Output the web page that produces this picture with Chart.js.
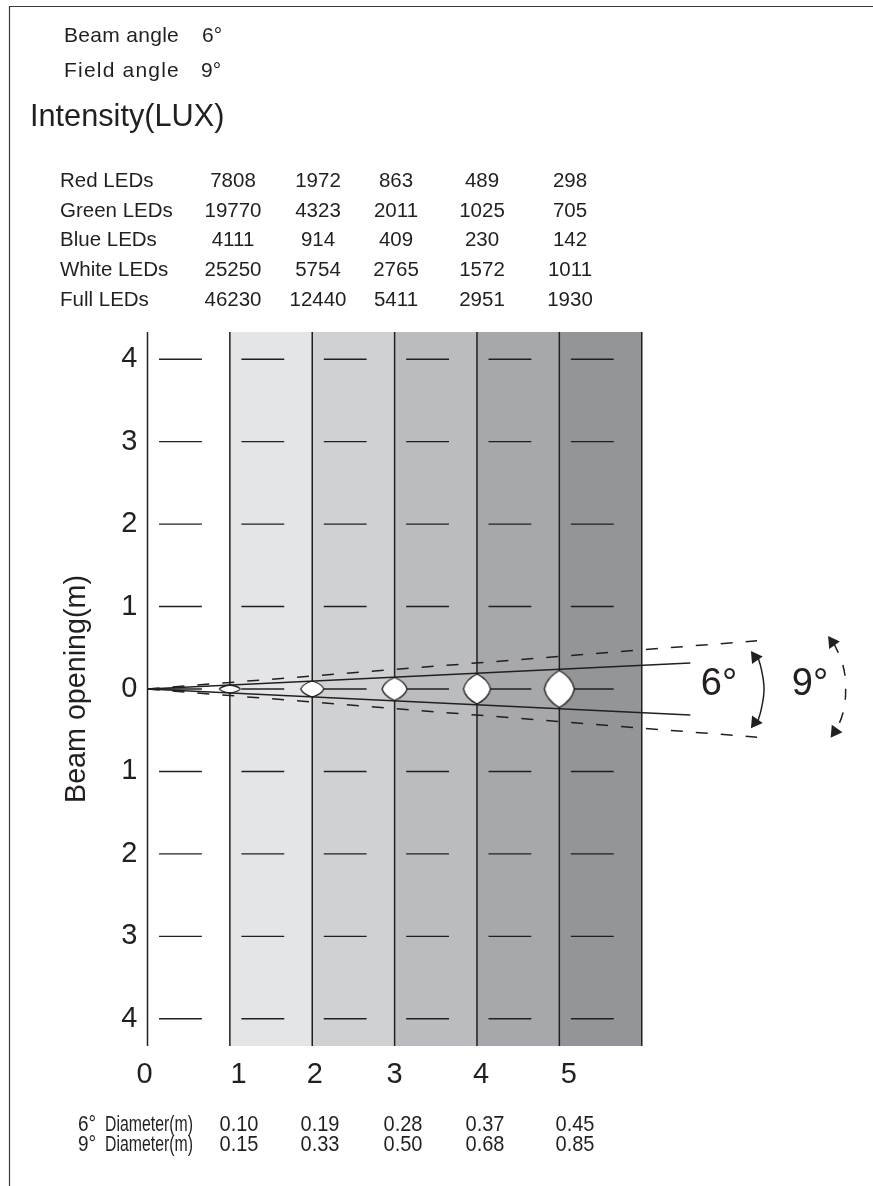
<!DOCTYPE html>
<html>
<head>
<meta charset="utf-8">
<title>Beam angle</title>
<script src="https://cdn.jsdelivr.net/npm/chart.js@4"></script>
<style>
html, body { margin: 0; padding: 0; background: #fff; }
canvas { display: block; }
</style>
</head>
<body>
<canvas id="chart1" width="873" height="1186"></canvas>
<script>
// table values
var ledNames = ["Red LEDs", "Green LEDs", "Blue LEDs", "White LEDs", "Full LEDs"];
var redLux = [7808, 1972, 863, 489, 298];
var greenLux = [19770, 4323, 2011, 1025, 705];
var blueLux = [4111, 914, 409, 230, 142];
var whiteLux = [25250, 5754, 2765, 1572, 1011];
var fullLux = [46230, 12440, 5411, 2951, 1930];
var diameter6 = ["0.10", "0.19", "0.28", "0.37", "0.45"];
var diameter9 = ["0.15", "0.33", "0.50", "0.68", "0.85"];

// axes
var distances = [1, 2, 3, 4, 5];
var xTickLabels = ["0", "1", "2", "3", "4", "5"];
var xTickPlaces = [-0.036, 1.106, 2.03, 3.0, 4.05, 5.115];
var yTickValues = [4, 3, 2, 1, 0, -1, -2, -3, -4];
var gridColumns = [0, 1, 2, 3, 4, 5, 6];
var bandCentres = [1.5, 2.5, 3.5, 4.5, 5.5];
var yLimit = 4.33;
var xLimit = 8.65;

// beam lines
var beam6End = [6.59, 0.315];
var beam9End = [7.4, 0.585];
var arc6X = [7.4, 7.45, 7.485, 7.45, 7.4];
var arc6Y = [0.42, 0.25, 0, -0.25, -0.42];
var arc9X = [8.33, 8.44, 8.476, 8.44, 8.33];
var arc9Y = [0.56, 0.3, 0, -0.3, -0.56];
var arrowX = [7.378, 7.378, 8.315, 8.346];
var arrowY = [0.387, -0.403, 0.569, -0.517];
var arrowTurn = [-35, 215, -35, 215];

// styles
var ink = "#231f20";
var bandColors = ["#e4e5e7", "#d0d1d3", "#bbbcbf", "#a7a8ab", "#939598"];
var lensWidths = [21, 23, 25, 27, 30];
var pxPerMetre = 82.4;
var tableRows = [181, 211, 240, 270, 300];
var tableColumns = [233, 318, 396, 482, 570];
var diameterColumns = [239, 320, 403, 485, 575];

function lensPicture(w, h) {
    var c = document.createElement("canvas");
    c.width = w + 4;
    c.height = h + 4;
    var g = c.getContext("2d");
    var mx = c.width / 2, my = c.height / 2, rx = w / 2, ry = h / 2, kx = 0.85, ky = 0.62;
    g.beginPath();
    g.moveTo(mx, my - ry);
    g.quadraticCurveTo(mx + rx * kx, my - ry * ky, mx + rx, my);
    g.quadraticCurveTo(mx + rx * kx, my + ry * ky, mx, my + ry);
    g.quadraticCurveTo(mx - rx * kx, my + ry * ky, mx - rx, my);
    g.quadraticCurveTo(mx - rx * kx, my - ry * ky, mx, my - ry);
    g.closePath();
    g.fillStyle = "#fff";
    g.fill();
    g.lineWidth = 1.3;
    g.strokeStyle = ink;
    g.stroke();
    return c;
}

var gridPoints = [];
gridColumns.forEach(function (x) {
    gridPoints.push({x: x, y: -yLimit}, {x: x, y: yLimit}, {x: x, y: null});
});

var dashPoints = [];
yTickValues.forEach(function (y) {
    [0, 1, 2, 3, 4, 5].forEach(function (x) {
        dashPoints.push({x: x + 0.14, y: y}, {x: x + 0.66, y: y}, {x: x, y: null});
    });
});

function pairUp(xs, ys) {
    return xs.map(function (x, i) {
        return {x: x, y: ys[i]};
    });
}

function beamPoints(end) {
    return [
        {x: 0, y: 0}, {x: end[0], y: end[1]}, {x: 0, y: null},
        {x: 0, y: 0}, {x: end[0], y: -end[1]}
    ];
}

var textPlugin = {
    id: "pageText",
    afterDraw: function (chart) {
        var ctx = chart.ctx;
        ctx.save();
        ctx.fillStyle = ink;
        ctx.strokeStyle = "#3a3a3a";
        ctx.lineWidth = 1.2;
        ctx.beginPath();
        ctx.moveTo(9.5, 1186);
        ctx.lineTo(9.5, 6.5);
        ctx.lineTo(873, 6.5);
        ctx.stroke();

        ctx.textBaseline = "middle";
        ctx.textAlign = "left";
        ctx.font = "21px 'Liberation Sans'";
        ctx.letterSpacing = "0.3px";
        ctx.fillText("Beam angle", 64, 36);
        ctx.letterSpacing = "1.2px";
        ctx.fillText("Field angle", 64, 71);
        ctx.letterSpacing = "0px";
        ctx.fillText("6°", 202, 36);
        ctx.fillText("9°", 201, 71);
        ctx.font = "30.7px 'Liberation Sans'";
        ctx.fillText("Intensity(LUX)", 30, 118);

        ctx.font = "20.5px 'Liberation Sans'";
        [redLux, greenLux, blueLux, whiteLux, fullLux].forEach(function (row, r) {
            ctx.textAlign = "left";
            ctx.fillText(ledNames[r], 60, tableRows[r]);
            ctx.textAlign = "center";
            row.forEach(function (v, i) {
                ctx.fillText(String(v), tableColumns[i], tableRows[r]);
            });
        });

        [[diameter6, "6°", 1125], [diameter9, "9°", 1145]].forEach(function (row) {
            ctx.textAlign = "left";
            ctx.font = "22px 'Liberation Sans'";
            ctx.save();
            ctx.translate(78, row[2]);
            ctx.scale(0.86, 1);
            ctx.fillText(row[1], 0, 0);
            ctx.restore();
            ctx.save();
            ctx.translate(105, row[2]);
            ctx.scale(0.72, 1);
            ctx.fillText("Diameter(m)", 0, 0);
            ctx.restore();
            ctx.textAlign = "center";
            row[0].forEach(function (v, i) {
                ctx.save();
                ctx.translate(diameterColumns[i], row[2]);
                ctx.scale(0.91, 1);
                ctx.fillText(v, 0, 0);
                ctx.restore();
            });
        });

        ctx.textAlign = "center";
        ctx.font = "38px 'Liberation Sans'";
        ctx.fillText("6°", 719, 685);
        ctx.fillText("9°", 810, 685);
        ctx.restore();
    }
};

new Chart("chart1", {
    type: "bar",
    plugins: [textPlugin],
    data: {
        datasets: [
            {
                type: "bar",
                data: bandCentres.map(function (x) {
                    return {x: x, y: [-yLimit, yLimit]};
                }),
                backgroundColor: bandColors,
                barThickness: 82.6,
                order: 9
            },
            {
                type: "line",
                data: gridPoints,
                borderColor: ink,
                borderWidth: 1.5,
                pointRadius: 0,
                clip: 4,
                order: 8
            },
            {
                type: "line",
                data: dashPoints,
                borderColor: ink,
                borderWidth: 1.4,
                pointRadius: 0,
                order: 7
            },
            {
                type: "line",
                data: distances.map(function (x) {
                    return {x: x, y: 0};
                }),
                showLine: false,
                pointStyle: distances.map(function (x, i) {
                    return lensPicture(lensWidths[i], Math.round(parseFloat(diameter6[i]) * pxPerMetre));
                }),
                pointRadius: 10,
                order: 6
            },
            {
                type: "line",
                data: beamPoints(beam6End),
                borderColor: ink,
                borderWidth: 1.5,
                pointRadius: 0,
                order: 5
            },
            {
                type: "line",
                data: beamPoints(beam9End),
                borderColor: ink,
                borderWidth: 1.5,
                borderDash: [12, 13],
                pointRadius: 0,
                order: 5
            },
            {
                type: "line",
                data: pairUp(arc6X, arc6Y),
                borderColor: ink,
                borderWidth: 1.5,
                tension: 0.4,
                pointRadius: 0,
                order: 4
            },
            {
                type: "line",
                data: pairUp(arc9X, arc9Y),
                borderColor: ink,
                borderWidth: 1.5,
                borderDash: [11, 13],
                tension: 0.4,
                pointRadius: 0,
                order: 4
            },
            {
                type: "line",
                data: pairUp(arrowX, arrowY),
                showLine: false,
                pointStyle: "triangle",
                pointRadius: 7.5,
                pointRotation: arrowTurn,
                pointBackgroundColor: ink,
                pointBorderColor: ink,
                pointBorderWidth: 0,
                order: 3
            }
        ]
    },
    options: {
        responsive: false,
        animation: false,
        layout: {
            padding: {top: 332, right: 13, bottom: 0, left: 0}
        },
        plugins: {
            legend: {display: false},
            tooltip: {enabled: false}
        },
        scales: {
            x: {
                type: "linear",
                offset: false,
                min: 0,
                max: xLimit,
                grid: {display: false, drawTicks: false},
                border: {display: false},
                afterBuildTicks: function (scale) {
                    scale.ticks = xTickPlaces.map(function (v) {
                        return {value: v};
                    });
                },
                afterFit: function (scale) {
                    scale.height = 140;
                },
                ticks: {
                    autoSkip: false,
                    maxRotation: 0,
                    padding: 12,
                    color: ink,
                    font: {family: "'Liberation Sans'", size: 29},
                    callback: function (value, index) {
                        return xTickLabels[index];
                    }
                }
            },
            y: {
                type: "linear",
                min: -yLimit,
                max: yLimit,
                grid: {display: false, drawTicks: false},
                border: {display: false},
                afterBuildTicks: function (scale) {
                    scale.ticks = yTickValues.map(function (v) {
                        return {value: v};
                    });
                },
                afterFit: function (scale) {
                    scale.width = 147.5;
                },
                title: {
                    display: true,
                    text: "Beam opening(m)",
                    color: ink,
                    font: {family: "'Liberation Sans'", size: 28.7},
                    padding: {top: 60, bottom: 0}
                },
                ticks: {
                    autoSkip: false,
                    padding: 10,
                    color: ink,
                    font: {family: "'Liberation Sans'", size: 29},
                    callback: function (value) {
                        return String(Math.abs(value));
                    }
                }
            }
        }
    }
});
</script>
</body>
</html>
